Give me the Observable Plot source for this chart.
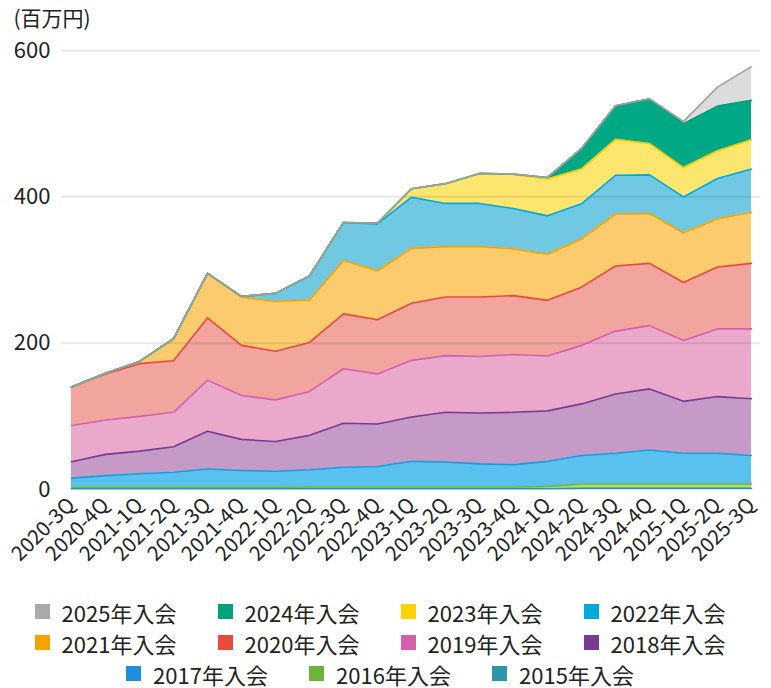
<!DOCTYPE html>
<html>
<head>
<meta charset="utf-8">
<script src="https://cdn.jsdelivr.net/npm/d3@7"></script>
<script src="https://cdn.jsdelivr.net/npm/@observablehq/plot@0.6"></script>
<style>
  body { margin: 0; background: #fff; overflow: hidden; }
  #chart { width: 771px; height: 596px; }
  #legend { width: 732px; margin-left: 14px; display: flex; flex-wrap: wrap; justify-content: center;
            font-family: 'Noto Sans CJK JP', 'Noto Sans', sans-serif; font-size: 22px; color: #222; }
  .item { width: 183px; height: 31px; display: flex; align-items: center; justify-content: center; line-height: 24px; }
  .sw { width: 15px; height: 15px; margin-right: 12px; flex: none; }
</style>
</head>
<body>
<div id="chart"></div>
<div id="legend"></div>
<script>
const quarters = ["2020-3Q","2020-4Q","2021-1Q","2021-2Q","2021-3Q","2021-4Q","2022-1Q","2022-2Q","2022-3Q","2022-4Q","2023-1Q","2023-2Q","2023-3Q","2023-4Q","2024-1Q","2024-2Q","2024-3Q","2024-4Q","2025-1Q","2025-2Q","2025-3Q"];

// bottom to top
const seriesNames = ["2015年入会","2016年入会","2017年入会","2018年入会","2019年入会","2020年入会","2021年入会","2022年入会","2023年入会","2024年入会","2025年入会"];

const v2015 = [1,1,1,1,1,1,1,1,1,1,1,1,1,1,1,1.5,1.5,1.5,1.5,1.5,1.5];
const v2016 = [2,2,2,2,2,2,2,2.5,2.5,2.5,2.5,2.5,2.5,2.5,3,6,6,6,6,6,6];
const v2017 = [12.5,16,18.5,20.5,25,23,22,23.5,27,28,35,34,31.5,30.5,34.5,39,42,46.5,42,42,39];
const v2018 = [22.5,29,31,35,51.5,42.5,40.5,47,60,58,60.5,68,69.5,71.5,69,70.5,81,83.5,71,77.5,77.5];
const v2019 = [49.5,47,47.5,47,70,60,57,60,74.5,68.5,77.5,77.5,77.5,79,75,80,86,86.5,83,92.5,95.5];
const v2020 = [52.5,63,72,70.5,85,68.5,66.5,67,75,74,78,80,81,80.5,76,79.5,89,85,79.5,84.5,89.5];
const v2021 = [0,1,3,30,61,66,68,58,73,67,75,69,69,64,63,66,71,68,68,66,70];
const v2022 = [0,0,0,0,0,1,11,33,52,64,70,59,59,55,52.5,48,53,53,49,55,59];
const v2023 = [0,0,0,0,0,0,0,0,0,1,11.5,27,41,47,50.5,47.5,49,43,40,38,40];
const v2024 = [0,0,0,0,0,0,0,0,0,0,0,0,0,0,2,28,46,61,60,61,54];
const v2025 = [0,0,0,0,0,0,0,0,0,0,0,0,0,0,0,0,0,0,3,26,46];
const seriesValues = [v2015,v2016,v2017,v2018,v2019,v2020,v2021,v2022,v2023,v2024,v2025];

const areaColors   = ["#5fb3c2","#b7d86c","#58c1ef","#c59ac6","#eaa9cb","#f2a49f","#fccb6e","#70c8e2","#fde66e","#00a884","#dcdcdc"];
const lineColors   = ["#2b97a8","#6cb43a","#1a9ad8","#7a3a94","#d65fab","#e84a3b","#f5a200","#00a9dc","#f5c800","#00a07c","#a0a0a0"];
const legendColors = ["#2b97a8","#6cb43a","#1e8fdc","#7a3a94","#d65fab","#e84a3b","#f5a200","#00a9dc","#ffd200","#00a27d","#a9a9a9"];

const yTicks = [0, 200, 400, 600];
const unitLabel = "(百万円)";

const table = seriesNames.flatMap((name, k) =>
  quarters.map((q, i) => ({q, name, value: seriesValues[k][i]})));
const areaOf = Object.fromEntries(seriesNames.map((n, k) => [n, areaColors[k]]));
const lineOf = Object.fromEntries(seriesNames.map((n, k) => [n, lineColors[k]]));

const chart = Plot.plot({
  width: 771,
  height: 596,
  marginLeft: 61,
  marginRight: 11,
  marginTop: 50,
  marginBottom: 107,
  style: {fontFamily: "'Noto Sans CJK JP', 'Noto Sans', sans-serif", fontSize: "22px", color: "#222", background: "#fff"},
  x: {type: "point", domain: quarters, padding: 0},
  y: {domain: [0, 600]},
  marks: [
    Plot.areaY(table, Plot.stackY({x: "q", y: "value", z: "name", order: seriesNames, fill: d => areaOf[d.name]})),
    Plot.gridY(yTicks.filter(t => t > 0), {stroke: "#000", strokeOpacity: 0.09, strokeWidth: 2}),
    Plot.lineY(table, Plot.stackY2({x: "q", y: "value", z: "name", order: seriesNames, stroke: d => lineOf[d.name], strokeWidth: 1.6})),
    Plot.axisY(yTicks, {tickSize: 0, tickPadding: 11, label: null}),
    Plot.axisX({tickRotate: -45, tickSize: 0, tickPadding: 12, label: null, fontSize: 20.5}),
    Plot.text([unitLabel], {frameAnchor: "top-left", dx: -48, dy: -39, textAnchor: "start", fontSize: 21})
  ]
});
document.getElementById("chart").appendChild(chart);

const legend = document.getElementById("legend");
for (let k = seriesNames.length - 1; k >= 0; k--) {
  const item = document.createElement("div");
  item.className = "item";
  const sw = document.createElement("span");
  sw.className = "sw";
  sw.style.background = legendColors[k];
  const t = document.createElement("span");
  t.textContent = seriesNames[k];
  item.appendChild(sw);
  item.appendChild(t);
  legend.appendChild(item);
}
</script>
</body>
</html>
